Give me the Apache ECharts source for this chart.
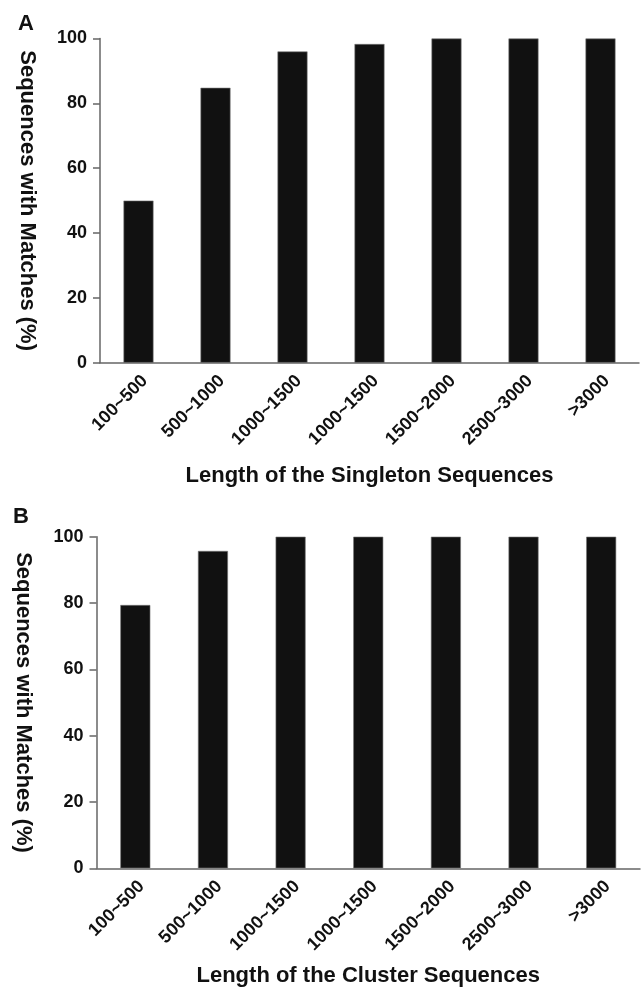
<!DOCTYPE html>
<html>
<head>
<meta charset="utf-8">
<script src="https://cdn.jsdelivr.net/npm/echarts@6/dist/echarts.min.js"></script>
<style>html,body{margin:0;padding:0;background:#fff;}#c{width:644px;height:998px;}</style>
</head>
<body>
<div id="c"></div>
<script>
var categories = ['100~500', '500~1000', '1000~1500', '1000~1500', '1500~2000', '2500~3000', '>3000'];
var singletonValues = [50, 84.8, 96, 98.3, 100, 100, 100];
var clusterValues = [79.4, 95.7, 100, 100, 100, 100, 100];
var yTicks = [0, 20, 40, 60, 80, 100];
var panelLabels = ['A', 'B'];
var xNames = ['Length of the Singleton Sequences', 'Length of the Cluster Sequences'];
var yName = 'Sequences with Matches (%)';

var FONT = 'Liberation Sans';
var chart = echarts.init(document.getElementById('c'), null, {renderer: 'canvas'});

function xAxis(idx, name, gap) {
  return {
    type: 'category', gridIndex: idx, data: categories,
    name: name, nameLocation: 'middle', nameGap: gap,
    nameTextStyle: {fontFamily: FONT, fontWeight: 'bold', fontSize: 22, color: '#111'},
    axisLine: {lineStyle: {color: '#666', width: 1.5}},
    axisTick: {length: 7, lineStyle: {color: '#666', width: 1.5}},
    axisLabel: {rotate: 45, margin: 9, interval: 0, verticalAlign: 'top',
      fontFamily: FONT, fontWeight: 'bold', fontSize: 18, color: '#111'}
  };
}
function yAxis(idx) {
  return {
    type: 'value', gridIndex: idx, min: yTicks[0], max: yTicks[yTicks.length - 1], interval: yTicks[1] - yTicks[0],
    name: yName, nameLocation: 'middle', nameRotate: -90, nameGap: 62,
    nameTextStyle: {fontFamily: FONT, fontWeight: 'bold', fontSize: 22, color: '#111'},
    axisLine: {show: true, lineStyle: {color: '#666', width: 1.5}},
    axisTick: {show: true, length: 7, lineStyle: {color: '#666', width: 1.5}},
    splitLine: {show: false},
    axisLabel: {margin: 13, fontFamily: FONT, fontWeight: 'bold', fontSize: 18, color: '#111'}
  };
}

chart.setOption({
  animation: false,
  backgroundColor: '#fff',
  title: [
    {text: panelLabels[0], left: 13, top: 8, textStyle: {fontFamily: FONT, fontWeight: 'bold', fontSize: 22, color: '#111'}},
    {text: panelLabels[1], left: 8, top: 501, textStyle: {fontFamily: FONT, fontWeight: 'bold', fontSize: 22, color: '#111'}}
  ],
  grid: [
    {left: 100, right: 5, top: 38.5, height: 324.2},
    {left: 96.5, right: 4, top: 536.7, height: 331.6}
  ],
  xAxis: [xAxis(0, xNames[0], 102), xAxis(1, xNames[1], 97)],
  yAxis: [yAxis(0), yAxis(1)],
  series: [
    {type: 'bar', xAxisIndex: 0, yAxisIndex: 0, data: singletonValues, barWidth: 30,
     itemStyle: {color: '#111', borderColor: '#777', borderWidth: 0.6}},
    {type: 'bar', xAxisIndex: 1, yAxisIndex: 1, data: clusterValues, barWidth: 30,
     itemStyle: {color: '#111', borderColor: '#777', borderWidth: 0.6}}
  ]
});
</script>
</body>
</html>
